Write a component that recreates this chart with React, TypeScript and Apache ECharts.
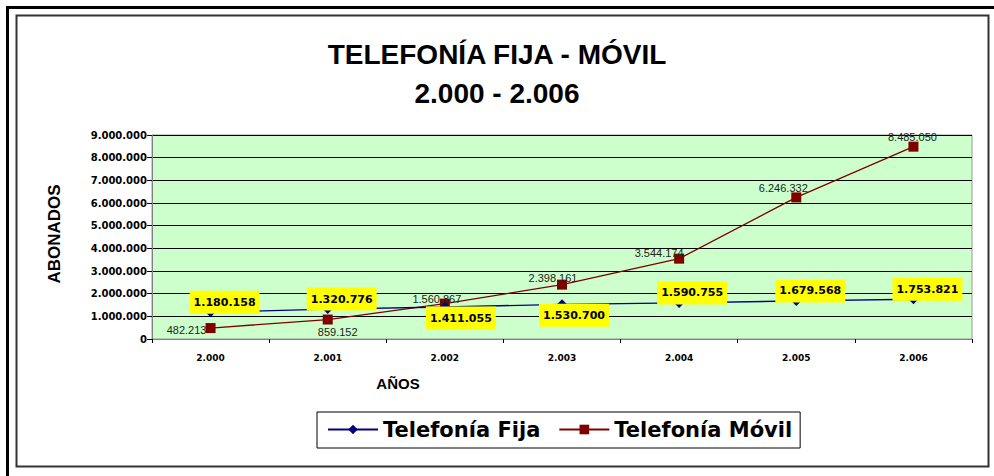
import React, { useEffect, useRef } from "react";
import * as echarts from "echarts";

const years = ["2.000", "2.001", "2.002", "2.003", "2.004", "2.005", "2.006"];
const fija = [1180158, 1320776, 1411055, 1530700, 1590755, 1679568, 1753821];
const movil = [482213, 859152, 1560867, 2398161, 3544174, 6246332, 8485050];
// label placement (offset from marker centre)
const fijaLabelOffsets = [[14, -10], [14, -10], [16, 11], [12, 11], [13, -10], [14, -10], [14, -10]];
const movilLabelOffsets = [[-24, 2], [10, 12], [-8, -5], [-9, -7], [-20, -6], [-13, -9], [-1, -10]];
const yTicks = [0, 1000000, 2000000, 3000000, 4000000, 5000000, 6000000, 7000000, 8000000, 9000000];

const fmt = (n: number) => String(n).replace(/\B(?=(\d{3})+(?!\d))/g, ".");

export default function App() {
  const ref = useRef<HTMLDivElement>(null);
  useEffect(() => {
    if (!ref.current) return;
    const chart = echarts.init(ref.current, null, { renderer: "svg" });
    const option: any = {
      animation: false,
      backgroundColor: "#ffffff",
      title: {
        text: "TELEFONÍA FIJA - MÓVIL\n2.000 - 2.006",
        left: "center",
        top: 30,
        textStyle: {
          fontFamily: "Liberation Sans",
          fontWeight: "bold",
          fontSize: 28,
          lineHeight: 39,
          color: "#000",
        },
      },
      legend: {
        left: 317,
        top: 412,
        padding: [7, 8, 8, 10],
        itemGap: 18,
        itemWidth: 50,
        itemHeight: 12,
        borderColor: "#000",
        borderWidth: 1,
        backgroundColor: "#fff",
        textStyle: {
          fontFamily: "DejaVu Sans",
          fontWeight: "bold",
          fontSize: 21,
          color: "#000",
        },
        data: ["Telefonía Fija", "Telefonía Móvil"],
      },
      grid: {
        left: 152,
        top: 135,
        right: 22,
        bottom: 137,
        show: true,
        backgroundColor: "#CCFFCC",
        borderColor: "#999",
        borderWidth: 1,
      },
      xAxis: {
        type: "category",
        data: years,
        boundaryGap: true,
        axisLine: { show: true, lineStyle: { color: "#808080", width: 1 } },
        axisTick: { show: true, length: 4, lineStyle: { color: "#000" } },
        axisLabel: {
          margin: 14,
          fontFamily: "DejaVu Sans",
          fontWeight: "bold",
          fontSize: 9,
          color: "#000",
        },
        splitLine: { show: false },
      },
      yAxis: {
        type: "value",
        min: 0,
        max: 9000000,
        interval: 1000000,
        axisLine: { show: true, lineStyle: { color: "#808080", width: 1 } },
        axisTick: { show: true, length: 5, lineStyle: { color: "#000" } },
        axisLabel: {
          margin: 5,
          fontFamily: "DejaVu Sans",
          fontWeight: "bold",
          fontSize: 10,
          color: "#000",
          formatter: (v: number) => (yTicks.includes(v) ? fmt(v) : ""),
        },
        splitLine: { show: true, lineStyle: { color: "#000", width: 1 } },
      },
      graphic: [
        { type: "line", shape: { x1: 7, y1: 7.5, x2: 994, y2: 7.5 }, style: { stroke: "#000", lineWidth: 3 }, z: 100 },
        { type: "line", shape: { x1: 7.5, y1: 6, x2: 7.5, y2: 476 }, style: { stroke: "#000", lineWidth: 3 }, z: 100 },
        { type: "rect", shape: { x: 16.5, y: 15.5, width: 972, height: 451 }, style: { fill: "transparent", stroke: "#333", lineWidth: 2 }, z: 100 },
        {
          type: "text",
          x: 54,
          y: 234,
          rotation: Math.PI / 2,
          style: {
            text: "ABONADOS",
            fontFamily: "Liberation Sans",
            fontWeight: "bold",
            fontSize: 17,
            fill: "#000",
            textAlign: "center",
            textVerticalAlign: "middle",
          },
        },
        {
          type: "text",
          x: 398,
          y: 383,
          style: {
            text: "AÑOS",
            fontFamily: "Liberation Sans",
            fontWeight: "bold",
            fontSize: 15,
            fill: "#000",
            textAlign: "center",
            textVerticalAlign: "middle",
          },
        },
      ],
      series: [
        {
          name: "Telefonía Fija",
          type: "line",
          symbol: "diamond",
          symbolSize: 10,
          itemStyle: { color: "#000080" },
          lineStyle: { color: "#000080", width: 1.3 },
          z: 3,
          data: fija.map((v, i) => ({
            value: v,
            label: {
              show: true,
              position: "inside",
              offset: fijaLabelOffsets[i],
              formatter: fmt(v),
              backgroundColor: "#FFFF00",
              padding: [6, 4, 6, 4],
              fontFamily: "DejaVu Sans",
              fontWeight: "bold",
              fontSize: 11,
              color: "#000",
            },
          })),
        },
        {
          name: "Telefonía Móvil",
          type: "line",
          symbol: "rect",
          symbolSize: 10,
          itemStyle: { color: "#800000" },
          lineStyle: { color: "#800000", width: 1.3 },
          z: 2,
          data: movil.map((v, i) => ({
            value: v,
            label: {
              show: true,
              position: "inside",
              offset: movilLabelOffsets[i],
              formatter: fmt(v),
              fontFamily: "Liberation Sans",
              fontSize: 11,
              color: "#222",
            },
          })),
        },
      ],
    };
    chart.setOption(option);
    return () => chart.dispose();
  }, []);
  return (
    <div
      ref={ref}
      style={{ position: "fixed", left: 0, top: 0, width: 994, height: 476 }}
    />
  );
}
